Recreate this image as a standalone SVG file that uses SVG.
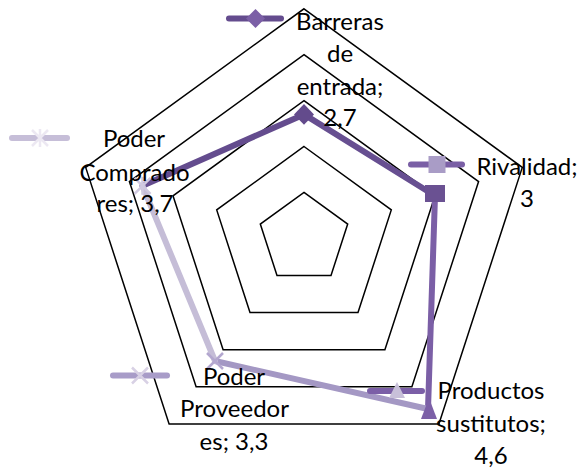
<svg xmlns="http://www.w3.org/2000/svg" width="583" height="472" viewBox="0 0 583 472">
<style>
.ring{fill:none;stroke:#000;stroke-width:1.5;stroke-linejoin:miter}
.seg{fill:none;stroke-width:6;stroke-linecap:round}
.key{stroke-width:6;stroke-linecap:round}
.lbl{font-family:Lato,"Liberation Sans",sans-serif;font-size:24px;fill:#000;text-anchor:middle}
</style>
<rect width="583" height="472" fill="#fff"/>
<g id="grid">
<polygon class="ring" points="304,192.4 347.7,224.1 331,275.4 277,275.4 260.3,224.1"/>
<polygon class="ring" points="304,146.5 391.3,209.9 358,312.6 250,312.6 216.7,209.9"/>
<polygon class="ring" points="304,100.6 435,195.8 384.9,349.7 223.1,349.7 173,195.8"/>
<polygon class="ring" points="304,54.7 478.6,181.6 411.9,386.8 196.1,386.8 129.4,181.6"/>
<polygon class="ring" points="304,8.8 522.3,167.4 438.9,424 169.1,424 85.7,167.4"/>
</g>
<g id="connectors">
<line class="seg" x1="142.5" y1="185.8" x2="304" y2="114.4" stroke="#644c8e"/>
<line class="seg" x1="304" y1="114.4" x2="435" y2="195.8" stroke="#674f91"/>
<line class="seg" x1="435" y1="195.8" x2="428" y2="409" stroke="#7b5fa6"/>
<line class="seg" x1="428" y1="409" x2="215" y2="361" stroke="#a498c4"/>
<line class="seg" x1="215" y1="361" x2="142.5" y2="185.8" stroke="#c5bdd7"/>
</g>
<g id="node-barreras">
<polygon points="304,104 314,114.4 304,124.8 294,114.4" fill="#634b8c"/>
<line class="key" x1="229" y1="18.5" x2="281" y2="18.5" stroke="#644c8e"/>
<polygon points="255.5,9 265,18.5 255.5,28 246,18.5" fill="#7b5fa6"/>
<text class="lbl" x="340" y="30">Barreras</text>
<text class="lbl" x="340" y="62">de</text>
<text class="lbl" x="340" y="95">entrada;</text>
<text class="lbl" x="340" y="126">2,7</text>
</g>
<g id="node-rivalidad">
<rect x="425" y="185" width="20" height="17" fill="#6a5192"/>
<line class="key" x1="411" y1="164.5" x2="462" y2="164.5" stroke="#7a5fa5"/>
<rect x="428.5" y="156" width="17" height="17" fill="#a99cc6"/>
<text class="lbl" x="527" y="175">Rivalidad;</text>
<text class="lbl" x="527" y="207">3</text>
</g>
<g id="node-productos">
<polygon points="429,398 437,419 421,419" fill="#7c60a7"/>
<line class="key" x1="370" y1="391" x2="422" y2="391" stroke="#7b5fa7"/>
<polygon points="397,382 405,398 389,398" fill="#c8c0d9"/>
<text class="lbl" x="491" y="399">Productos</text>
<text class="lbl" x="491" y="432">sustitutos;</text>
<text class="lbl" x="491" y="464">4,6</text>
</g>
<g id="node-proveedores">
<path d="M207,353 L223,369 M223,353 L207,369" stroke="#b3a7cf" stroke-width="2.5"/>
<line class="key" x1="113" y1="375.5" x2="167" y2="375.5" stroke="#a89cc8"/>
<path d="M132,367.5 L148,383.5 M148,367.5 L132,383.5" stroke="#d8d1e5" stroke-width="2.5"/>
<text class="lbl" x="234" y="385">Poder</text>
<text class="lbl" x="234.5" y="417">Proveedor</text>
<text class="lbl" x="234" y="450">es; 3,3</text>
</g>
<g id="node-compradores">
<path d="M134.5,177.8 L150.5,193.8 M150.5,177.8 L134.5,193.8 M142.5,176.8 L142.5,194.8" stroke="#d0c9e0" stroke-width="2.5"/>
<line class="key" x1="12" y1="138" x2="67" y2="138" stroke="#c6bed8"/>
<path d="M32,130 L48,146 M48,130 L32,146 M40,129 L40,147" stroke="#ece8f2" stroke-width="2.5"/>
<text class="lbl" x="134" y="147">Poder</text>
<text class="lbl" x="134.5" y="181">Comprado</text>
<text class="lbl" x="135" y="212">res; 3,7</text>
</g>
</svg>
